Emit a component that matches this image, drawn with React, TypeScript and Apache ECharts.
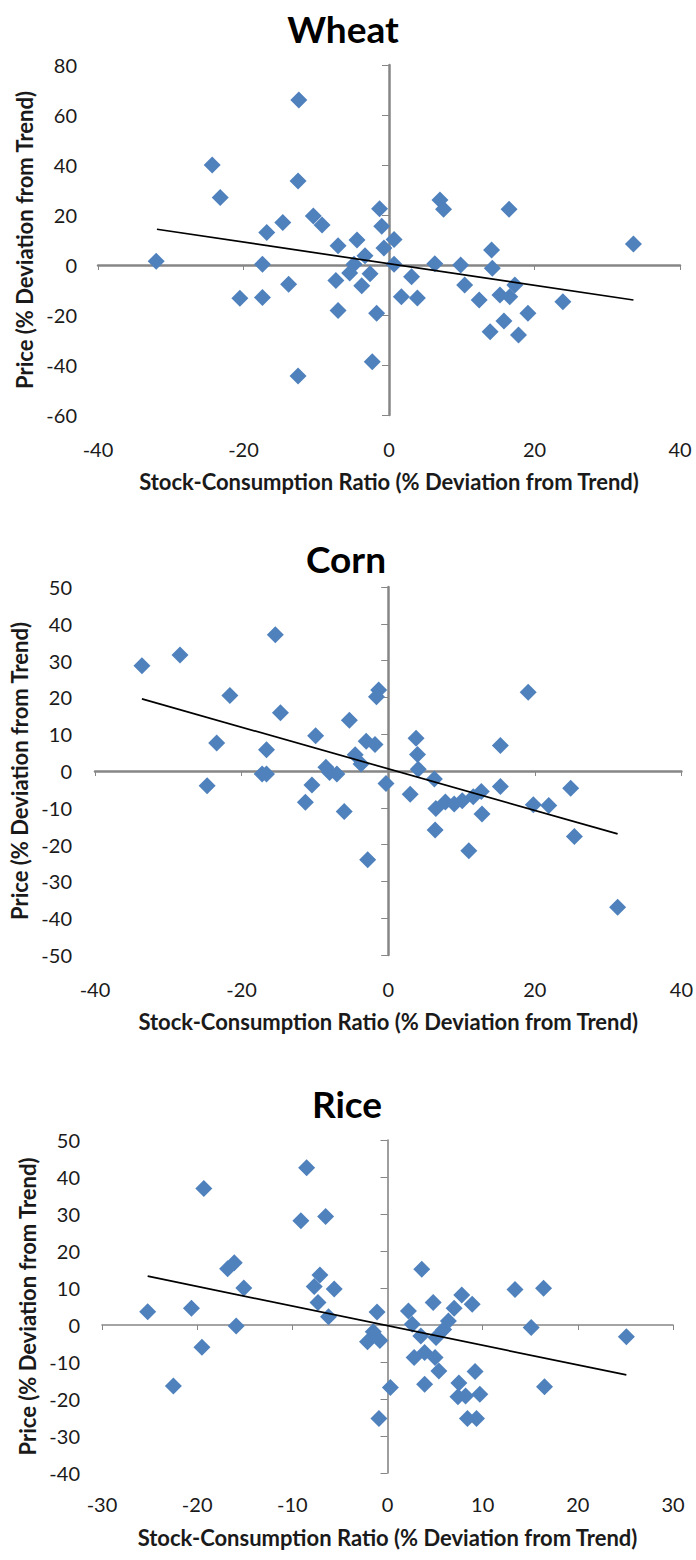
import React, { useEffect, useRef } from "react";
import * as echarts from "echarts";

// ---- Data ----
const wheatData: [number, number][] = [
  [-32, 1.5], [-24.3, 40], [-23.2, 27], [-20.5, -13.3], [-17.4, -13], [-17.4, 0.3],
  [-16.8, 13], [-14.6, 17], [-13.8, -7.7], [-12.4, 66], [-12.5, 33.6], [-12.5, -44.4],
  [-10.4, 19.6], [-9.2, 16], [-7.0, 7.7], [-7.3, -6.2], [-7.0, -18.2], [-4.4, 10],
  [-3.3, 3.7], [-4.8, 0.3], [-5.4, -3.2], [-2.6, -3.5], [-3.75, -8.3], [-1.3, 22.5],
  [-1.0, 15.5], [-0.7, 6.8], [0.7, 10.2], [0.7, 0.3], [-1.7, -19.3], [-2.3, -38.7],
  [3.1, -4.7], [1.7, -12.7], [3.9, -13.2], [7.0, 26], [7.5, 22.3], [6.3, 0.5],
  [9.85, 0], [10.4, -8], [12.4, -14], [14.1, 6], [14.2, -1.3], [13.9, -26.7],
  [15.25, -12], [15.8, -22.4], [16.6, -12.7], [16.5, 22.3], [17.3, -8], [17.8, -28],
  [19.1, -19.3], [23.9, -14.7], [33.6, 8.4],
];
const wheatTrend: [number, number][] = [[-31.9, 14.3], [33.6, -14]];

const cornData: [number, number][] = [
  [-33.6, 28.6], [-28.4, 31.5], [-24.7, -4], [-23.4, 7.6], [-21.6, 20.5], [-17.2, -0.8],
  [-16.6, -0.8], [-16.6, 5.8], [-15.4, 37], [-14.7, 15.8], [-11.3, -8.5], [-10.4, -3.8],
  [-9.9, 9.6], [-8.5, 1], [-8.0, -0.4], [-7.0, -0.8], [-6.0, -11], [-5.3, 13.8],
  [-4.5, 4.4], [-3.7, 1.9], [-3.0, 8.1], [-1.8, 7.2], [-1.3, 22], [-1.6, 20.2],
  [-2.8, -24.1], [-0.3, -3.4], [3.8, 8.9], [4.0, 4.5], [4.1, 0.5], [3.0, -6.3],
  [6.3, -2.2], [6.5, -10.2], [6.4, -16], [7.8, -8.4], [9.0, -9], [10.1, -8.1],
  [11.0, -21.7], [11.6, -7], [12.7, -5.6], [12.8, -11.7], [15.3, 6.9], [15.3, -4.2],
  [19.1, 21.4], [19.8, -9.2], [21.9, -9.4], [24.9, -4.7], [25.4, -17.8], [31.3, -37],
];
const cornTrend: [number, number][] = [[-33.6, 19.6], [31.3, -17.1]];

const riceData: [number, number][] = [
  [-25.2, 3.6], [-22.5, -16.5], [-20.6, 4.5], [-19.3, 36.9], [-19.5, -6], [-16.8, 15.2],
  [-16.1, 16.8], [-15.1, 10], [-15.9, -0.3], [-8.5, 42.5], [-9.1, 28.2], [-6.5, 29.3],
  [-7.1, 13.5], [-7.7, 10.4], [-7.3, 6.1], [-5.6, 9.7], [-6.2, 2.2], [-1.1, 3.5],
  [-1.5, -1.8], [-2.1, -4.5], [-0.8, -4.2], [0.3, -16.9], [-0.9, -25.3], [3.6, 15.1],
  [2.2, 3.8], [2.6, 0.2], [3.5, -3], [2.8, -8.8], [3.9, -7.4], [3.9, -16],
  [4.8, 6.1], [5.1, -3.4], [5.0, -8.8], [5.4, -12.4], [5.9, -1.2], [6.4, 1.1],
  [7.0, 4.5], [7.8, 8.1], [8.9, 5.6], [7.5, -15.7], [7.4, -19.4], [8.2, -19.2],
  [9.2, -12.6], [9.7, -18.7], [8.4, -25.3], [9.35, -25.3], [13.4, 9.6], [16.4, 9.9],
  [15.1, -0.7], [16.5, -16.7], [25.1, -3.2],
];
const riceTrend: [number, number][] = [[-25.2, 13.2], [25.1, -13.5]];

const titles = ["Wheat", "Corn", "Rice"];
const xAxisTitle = "Stock-Consumption Ratio (% Deviation from Trend)";
const yAxisTitle = "Price (% Deviation from Trend)";

const wheatXScale = { min: -40, max: 40, interval: 20 };
const wheatYScale = { min: -60, max: 80, interval: 20 };
const cornXScale = { min: -40, max: 40, interval: 20 };
const cornYScale = { min: -50, max: 50, interval: 10 };
const riceXScale = { min: -30, max: 30, interval: 10 };
const riceYScale = { min: -40, max: 50, interval: 10 };

// ---- Layout / style ----
const FONT = 'Lato, "Open Sans", sans-serif';
const BLUE = "#4F81BD";
const AXIS_GRAY = "#868686";

const panels = [
  {
    title: titles[0], data: wheatData, trend: wheatTrend, xs: wheatXScale, ys: wheatYScale,
    grid: { left: 98, top: 65, width: 582, height: 350 },
    titlePos: [343, 28], lineW: 2.5, xNameGap: 55, yNameGap: 61, xLabelMargin: 24, yLabelMargin: 21,
  },
  {
    title: titles[1], data: cornData, trend: cornTrend, xs: cornXScale, ys: cornYScale,
    grid: { left: 95, top: 587, width: 588, height: 368 },
    titlePos: [346, 558], lineW: 2.5, xNameGap: 55, yNameGap: 63, xLabelMargin: 24, yLabelMargin: 23,
  },
  {
    title: titles[2], data: riceData, trend: riceTrend, xs: riceXScale, ys: riceYScale,
    grid: { left: 102, top: 1140, width: 571, height: 333 },
    titlePos: [347, 1103], lineW: 1.6, xNameGap: 53, yNameGap: 60, xLabelMargin: 21, yLabelMargin: 22,
  },
];

function buildOption() {
  const grid: any[] = [];
  const xAxis: any[] = [];
  const yAxis: any[] = [];
  const series: any[] = [];
  const graphic: any[] = [];

  panels.forEach((p, i) => {
    grid.push({ ...p.grid, containLabel: false });
    const labelStyle = { color: "#1a1a1a", fontSize: 20, fontFamily: FONT };
    const nameStyle = { color: "#1a1a1a", fontSize: 22, fontWeight: "bold", fontFamily: FONT };
    // label axis (x)
    xAxis.push({
      gridIndex: i, type: "value", ...p.xs, position: "bottom",
      axisLine: { show: false, onZero: false },
      axisTick: { show: false },
      splitLine: { show: false },
      axisLabel: { ...labelStyle, margin: p.xLabelMargin, showMinLabel: true, showMaxLabel: true },
      name: xAxisTitle, nameLocation: "middle", nameGap: p.xNameGap, nameTextStyle: nameStyle,
    });
    // zero-line axis (x)
    xAxis.push({
      gridIndex: i, type: "value", ...p.xs, position: "bottom",
      axisLine: { show: true, onZero: true, onZeroAxisIndex: 2 * i, lineStyle: { color: AXIS_GRAY, width: p.lineW } },
      axisTick: { show: true, length: 5, lineStyle: { color: AXIS_GRAY, width: 1 } },
      axisLabel: { show: false },
      splitLine: { show: false },
    });
    yAxis.push({
      gridIndex: i, type: "value", ...p.ys, position: "left",
      axisLine: { show: false, onZero: false },
      axisTick: { show: false },
      splitLine: { show: false },
      axisLabel: { ...labelStyle, margin: p.yLabelMargin, showMinLabel: true, showMaxLabel: true },
      name: yAxisTitle, nameLocation: "middle", nameGap: p.yNameGap, nameTextStyle: nameStyle,
    });
    yAxis.push({
      gridIndex: i, type: "value", ...p.ys, position: "left",
      axisLine: { show: true, onZero: true, onZeroAxisIndex: 2 * i, lineStyle: { color: AXIS_GRAY, width: p.lineW } },
      axisTick: { show: true, length: 7, lineStyle: { color: AXIS_GRAY, width: 1 } },
      axisLabel: { show: false },
      splitLine: { show: false },
    });
    series.push({
      type: "scatter", xAxisIndex: 2 * i, yAxisIndex: 2 * i,
      data: p.data, symbol: "diamond", symbolSize: 17,
      itemStyle: { color: BLUE, opacity: 1 }, z: 3,
    });
    series.push({
      type: "line", xAxisIndex: 2 * i, yAxisIndex: 2 * i,
      data: p.trend, symbol: "none", lineStyle: { color: "#000", width: 1.7 }, z: 4,
    });
    graphic.push({
      type: "text", x: p.titlePos[0], y: p.titlePos[1],
      style: {
        text: p.title, fill: "#000", font: `bold 37px ${FONT}`,
        textAlign: "center", textVerticalAlign: "middle", align: "center", verticalAlign: "middle",
      },
    });
  });

  return { animation: false, backgroundColor: "#fff", grid, xAxis, yAxis, series, graphic };
}

export default function App() {
  const ref = useRef<HTMLDivElement>(null);
  useEffect(() => {
    if (!ref.current) return;
    const chart = echarts.init(ref.current, undefined, { renderer: "svg" });
    chart.setOption(buildOption() as any);
    return () => chart.dispose();
  }, []);
  return (
    <div
      ref={ref}
      style={{ position: "absolute", left: 0, top: 0, width: 696, height: 1560, background: "#fff" }}
    />
  );
}
